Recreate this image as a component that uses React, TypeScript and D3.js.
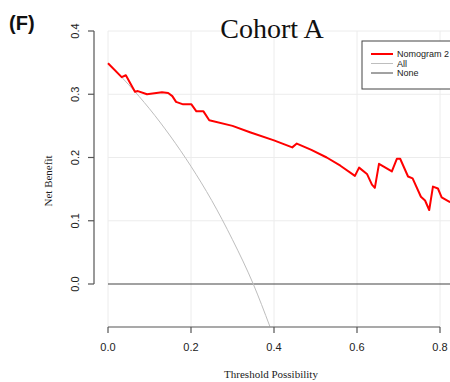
import React, { useEffect, useRef } from 'react';
import * as d3 from 'd3';

// threshold / net benefit
const nomogramT = [0, 0.033, 0.043, 0.065, 0.072, 0.094, 0.13, 0.145, 0.155, 0.164, 0.181, 0.201, 0.213, 0.23, 0.244, 0.3, 0.342, 0.4, 0.444, 0.455, 0.49, 0.527, 0.56, 0.595, 0.605, 0.624, 0.636, 0.643, 0.653, 0.684, 0.696, 0.704, 0.723, 0.734, 0.754, 0.764, 0.774, 0.783, 0.795, 0.804, 0.823, 0.85];
const nomogramNB = [0.349, 0.327, 0.330, 0.304, 0.305, 0.300, 0.303, 0.302, 0.297, 0.288, 0.284, 0.284, 0.273, 0.273, 0.259, 0.250, 0.240, 0.227, 0.216, 0.222, 0.212, 0.200, 0.187, 0.171, 0.184, 0.174, 0.157, 0.152, 0.190, 0.178, 0.198, 0.198, 0.170, 0.167, 0.138, 0.132, 0.117, 0.154, 0.151, 0.137, 0.130, 0.125];

const allT = [0, 0.05, 0.1, 0.15, 0.2, 0.25, 0.3, 0.35, 0.39];
const allNB = [0.349, 0.315, 0.277, 0.234, 0.186, 0.132, 0.070, 0.0, -0.067];

const noneT = [0, 1];
const noneNB = [0, 0];

const xTicks = [0, 0.2, 0.4, 0.6, 0.8];
const yTicks = [0, 0.1, 0.2, 0.3, 0.4];
const legendLabels = ['Nomogram 2', 'All', 'None'];
const legendColors = ['#ff0000', '#bebebe', '#444444'];
const legendWidths = [2, 1, 1];

const App = () => {
  const ref = useRef<SVGSVGElement>(null);

  useEffect(() => {
    const svg = d3.select(ref.current);
    svg.selectAll('*').remove();

    const x = d3.scaleLinear().domain([0, 0.8]).range([108, 440]);
    const y = d3.scaleLinear().domain([0, 0.4]).range([284, 31]);
    const bottom = 327;
    const sans = 'Liberation Sans, Arial, sans-serif';
    const serif = 'Liberation Serif, Times New Roman, serif';

    svg.append('rect').attr('width', 450).attr('height', 382).attr('fill', '#fff');

    svg.append('defs').append('clipPath').attr('id', 'plotclip')
      .append('rect').attr('x', 96).attr('y', 20).attr('width', 360).attr('height', bottom - 20);

    // grid
    const grid = svg.append('g').attr('stroke', '#ececec').attr('stroke-width', 1);
    xTicks.forEach(t => {
      grid.append('line').attr('x1', x(t)).attr('x2', x(t)).attr('y1', y(0.4)).attr('y2', bottom);
    });
    yTicks.slice(1).forEach(t => {
      grid.append('line').attr('x1', x(0)).attr('x2', 450).attr('y1', y(t)).attr('y2', y(t));
    });

    const line = (ts: number[], vs: number[], curve = d3.curveLinear) =>
      d3.line<number>().x((d, i) => x(ts[i])).y(d => y(d)).curve(curve)(vs);

    const plot = svg.append('g').attr('clip-path', 'url(#plotclip)');
    plot.append('path').attr('d', line(noneT, noneNB)).attr('fill', 'none')
      .attr('stroke', '#444').attr('stroke-width', 1.2);
    plot.append('path').attr('d', line(allT, allNB, d3.curveMonotoneX)).attr('fill', 'none')
      .attr('stroke', '#bebebe').attr('stroke-width', 1);
    plot.append('path').attr('d', line(nomogramT, nomogramNB)).attr('fill', 'none')
      .attr('stroke', '#ff0000').attr('stroke-width', 2).attr('stroke-linejoin', 'round');

    // x axis
    const xa = svg.append('g').attr('stroke', '#555').attr('stroke-width', 1.2);
    xa.append('line').attr('x1', x(0)).attr('x2', x(0.8)).attr('y1', bottom).attr('y2', bottom);
    xTicks.forEach(t => {
      xa.append('line').attr('x1', x(t)).attr('x2', x(t)).attr('y1', bottom).attr('y2', bottom + 6);
      svg.append('text').attr('x', x(t)).attr('y', 351).attr('text-anchor', 'middle')
        .attr('font-family', sans).attr('font-size', 11).attr('fill', '#222')
        .text(d3.format('.1f')(t));
    });

    // y axis
    const ya = svg.append('g').attr('stroke', '#555').attr('stroke-width', 1.2);
    ya.append('line').attr('x1', 94).attr('x2', 94).attr('y1', y(0)).attr('y2', y(0.4));
    yTicks.forEach(t => {
      ya.append('line').attr('x1', 88).attr('x2', 94).attr('y1', y(t)).attr('y2', y(t));
      svg.append('text').attr('transform', `translate(79,${y(t)}) rotate(-90)`)
        .attr('text-anchor', 'middle').attr('font-family', sans).attr('font-size', 11)
        .attr('fill', '#222').text(d3.format('.1f')(t));
    });

    // titles
    svg.append('text').attr('x', 272).attr('y', 38).attr('text-anchor', 'middle')
      .attr('font-family', serif).attr('font-size', 28).attr('fill', '#111').text('Cohort A');
    svg.append('text').attr('x', 9).attr('y', 30)
      .attr('font-family', sans).attr('font-size', 20).attr('font-weight', 'bold')
      .attr('fill', '#111').text('(F)');
    svg.append('text').attr('x', 271).attr('y', 378).attr('text-anchor', 'middle')
      .attr('font-family', serif).attr('font-size', 11).attr('fill', '#222').text('Threshold Possibility');
    svg.append('text').attr('transform', 'translate(52,181) rotate(-90)').attr('text-anchor', 'middle')
      .attr('font-family', serif).attr('font-size', 11).attr('fill', '#222').text('Net Benefit');

    // legend
    const lg = svg.append('g');
    lg.append('rect').attr('x', 362).attr('y', 41).attr('width', 100).attr('height', 48)
      .attr('fill', '#fff').attr('stroke', '#444').attr('stroke-width', 1);
    legendLabels.forEach((lab, i) => {
      const ly = 54 + i * 9.5;
      lg.append('line').attr('x1', 371).attr('x2', 393).attr('y1', ly).attr('y2', ly)
        .attr('stroke', legendColors[i]).attr('stroke-width', legendWidths[i]);
      lg.append('text').attr('x', 397).attr('y', ly + 3).attr('font-family', sans)
        .attr('font-size', 9).attr('fill', '#222').text(lab);
    });
  }, []);

  return (
    <svg ref={ref} width={450} height={382}
      style={{ position: 'absolute', left: 0, top: 0, display: 'block' }} />
  );
};

export default App;
